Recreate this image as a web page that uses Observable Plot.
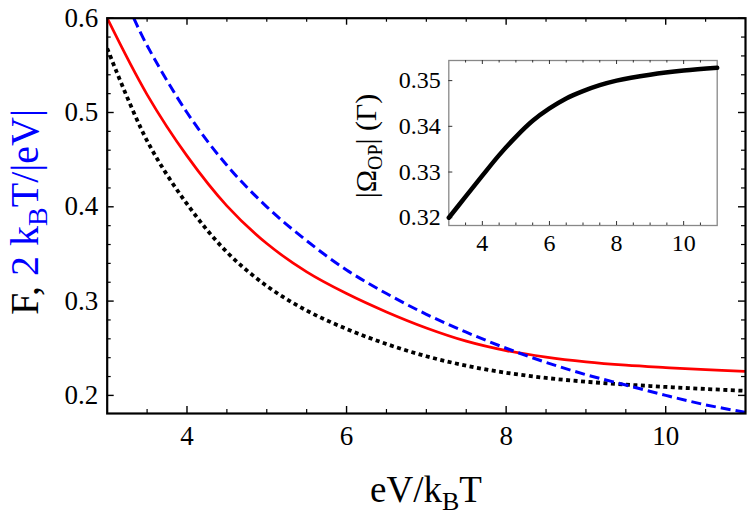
<!DOCTYPE html>
<html><head><meta charset="utf-8">
<script src="https://cdn.jsdelivr.net/npm/d3@7"></script>
<script src="https://cdn.jsdelivr.net/npm/@observablehq/plot@0.6"></script>
<style>
body{margin:0;background:#fff;}
#wrap{position:relative;width:747px;height:517px;overflow:hidden;}
#insetBox{position:absolute;left:340px;top:40px;}
</style></head><body><div id="wrap"><div id="mainBox"></div><div id="insetBox"></div></div>
<script>
// ---- data ----
const xGrid = [3.0,3.5,4.0,4.5,5.0,5.5,6.0,6.5,7.0,7.5,8.0,8.5,9.0,9.5,10.0,10.5,11.0];
const fRed  = [0.600,0.519,0.454,0.401,0.361,0.331,0.308,0.2885,0.2715,0.2575,0.2475,0.2405,0.2355,0.2320,0.2295,0.2273,0.2255];
const fBlack= [0.568,0.470,0.403,0.352,0.316,0.290,0.2705,0.2545,0.2415,0.2315,0.2240,0.2185,0.2145,0.2115,0.2090,0.2068,0.2048];
const xBlue = [3.333,3.5,4.0,4.5,5.0,5.5,6.0,6.5,7.0,7.5,8.0,8.5,9.0,9.5,10.0,10.5,11.0];
const fBlue = [0.600,0.571,0.500,0.444,0.400,0.364,0.333,0.308,0.286,0.267,0.250,0.235,0.222,0.211,0.200,0.190,0.182];
const xInset = [3,3.5,4,4.5,5,5.5,6,6.5,7,7.5,8,9,10,11];
const omega  = [0.3200,0.3246,0.3292,0.3337,0.3377,0.3412,0.3439,0.3461,0.3477,0.3490,0.3500,0.3513,0.3522,0.3528];

const xMajor = [4,6,8,10];
const xMinor = [3.5,4.5,5,5.5,6.5,7,7.5,8.5,9,9.5,10.5];
const yMajor = [0.2,0.3,0.4,0.5,0.6];
const yMinor = [0.22,0.24,0.26,0.28,0.32,0.34,0.36,0.38,0.42,0.44,0.46,0.48,0.52,0.54,0.56,0.58];
const insetYTicks = [0.32,0.33,0.34,0.35];
const insetXMajor = [4,6,8,10];
const insetXMinor = [3.5,4.5,5,5.5,6.5,7,7.5,8.5,9,9.5,10.5];

const serif = "'Liberation Serif','DejaVu Serif',serif";

// ---- main chart ----
const W = 747, H = 517, mL = 106.7, mR = 2, mT = 17.7, mB = 104;
const iw = W - mL - mR, ih = H - mT - mB;
const red = xGrid.map((x,i)=>({x, y: fRed[i]}));
const blk = xGrid.map((x,i)=>({x, y: fBlack[i]}));
const blu = xBlue.map((x,i)=>({x, y: fBlue[i]}));

const main = Plot.plot({
  width: W, height: H,
  marginLeft: mL, marginRight: mR, marginTop: mT, marginBottom: mB,
  style: {fontFamily: serif, fontSize: "27px", background: "white", color: "black"},
  x: {domain: [3, 11]},
  y: {domain: [0.1808, 0.6]},
  marks: [
    Plot.line(blk, {x:"x", y:"y", stroke:"black", strokeWidth:3.8, strokeDasharray:"4,3.5", strokeLinecap:"butt", curve:"catmull-rom", clip:true}),
    Plot.line(red, {x:"x", y:"y", stroke:"#ff0000", strokeWidth:2.7, curve:"catmull-rom", clip:true}),
    Plot.line(blu, {x:"x", y:"y", stroke:"#0000ff", strokeWidth:3, strokeDasharray:"10,5", strokeLinecap:"butt", curve:"catmull-rom", clip:true}),
    // inward ticks
    Plot.tickX(xMajor, {x: d=>d, insetTop: ih - 7, stroke:"black", strokeWidth:1.4}),
    Plot.tickX(xMajor, {x: d=>d, insetBottom: ih - 7, stroke:"black", strokeWidth:1.4}),
    Plot.tickX(xMinor, {x: d=>d, insetTop: ih - 4, stroke:"black", strokeWidth:1.2}),
    Plot.tickX(xMinor, {x: d=>d, insetBottom: ih - 4, stroke:"black", strokeWidth:1.2}),
    Plot.tickY(yMajor, {y: d=>d, insetRight: iw - 7, stroke:"black", strokeWidth:1.4}),
    Plot.tickY(yMajor, {y: d=>d, insetLeft: iw - 7, stroke:"black", strokeWidth:1.4}),
    Plot.tickY(yMinor, {y: d=>d, insetRight: iw - 4, stroke:"black", strokeWidth:1.2}),
    Plot.tickY(yMinor, {y: d=>d, insetLeft: iw - 4, stroke:"black", strokeWidth:1.2}),
    Plot.frame({stroke:"black", strokeWidth:2.2}),
    Plot.axisX(xMajor, {tickSize:0, tickPadding:12, label:null, fontSize:27, tickFormat: d=>String(d)}),
    Plot.axisY(yMajor, {tickSize:0, tickPadding:9, label:null, fontSize:27, tickFormat: d3.format(".1f")})
  ]
});
document.getElementById("mainBox").appendChild(main);

const ms = d3.select(main);
// x label
const xl = ms.append("text").attr("x", 426).attr("y", 502).attr("text-anchor","middle")
  .attr("font-family", serif).attr("font-size", 37).attr("fill","black");
xl.append("tspan").text("eV/k");
xl.append("tspan").attr("font-size", 26).attr("dy", 8).text("B");
xl.append("tspan").attr("dy", -8).text("T");
// y label
const yl = ms.append("text").attr("transform","translate(38,212) rotate(-90)").attr("text-anchor","middle")
  .attr("font-family", serif).attr("font-size", 40).attr("fill","black");
yl.append("tspan").text("F, ");
yl.append("tspan").attr("fill","#0000ff").text("2 k");
yl.append("tspan").attr("fill","#0000ff").attr("font-size", 28).attr("dy", 9).text("B");
yl.append("tspan").attr("fill","#0000ff").attr("dy", -9).text("T/|eV|");

// ---- inset ----
const IW = 390, IH = 230, imL = 108.3, imR = 13.3, imT = 20, imB = 45;
const iiw = IW - imL - imR, iih = IH - imT - imB;
const om = xInset.map((x,i)=>({x, y: omega[i]}));
const inset = Plot.plot({
  width: IW, height: IH,
  marginLeft: imL, marginRight: imR, marginTop: imT, marginBottom: imB,
  style: {fontFamily: serif, fontSize: "24px", background: "transparent", color: "black"},
  x: {domain: [3, 11]},
  y: {domain: [0.3183, 0.3544]},
  marks: [
    Plot.frame({stroke:"#888", strokeWidth:1.3}),
    Plot.tickX(insetXMajor, {x: d=>d, insetTop: iih - 4, stroke:"#333", strokeWidth:1}),
    Plot.tickX(insetXMajor, {x: d=>d, insetBottom: iih - 4, stroke:"#333", strokeWidth:1}),
    Plot.tickX(insetXMinor, {x: d=>d, insetTop: iih - 2.5, stroke:"#333", strokeWidth:1}),
    Plot.tickX(insetXMinor, {x: d=>d, insetBottom: iih - 2.5, stroke:"#333", strokeWidth:1}),
    Plot.tickY(insetYTicks, {y: d=>d, insetRight: iiw - 4, stroke:"#333", strokeWidth:1}),
    Plot.line(om, {x:"x", y:"y", stroke:"black", strokeWidth:4.5, curve:"catmull-rom"}),
    Plot.axisX(insetXMajor, {tickSize:0, tickPadding:8, label:null, fontSize:24, tickFormat: d=>String(d)}),
    Plot.axisY(insetYTicks, {tickSize:0, tickPadding:8, label:null, fontSize:24, tickFormat: d3.format(".2f")})
  ]
});
document.getElementById("insetBox").appendChild(inset);
const is = d3.select(inset);
const il = is.append("text").attr("transform","translate(36,106) rotate(-90)").attr("text-anchor","middle")
  .attr("font-family", serif).attr("font-size", 30).attr("fill","black");
il.append("tspan").text("|Ω");
il.append("tspan").attr("font-size", 20).attr("dy", 6).text("OP");
il.append("tspan").attr("dy", -6).text("| (Γ)");
</script></body></html>
